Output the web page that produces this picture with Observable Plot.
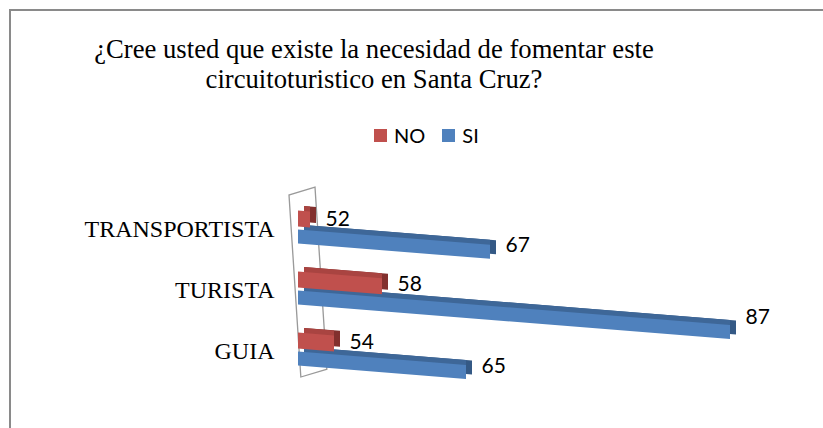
<!DOCTYPE html>
<html>
<head>
<meta charset="utf-8">
<script src="https://cdn.jsdelivr.net/npm/d3@7"></script>
<script src="https://cdn.jsdelivr.net/npm/@observablehq/plot@0.6"></script>
<style>
  html, body { margin: 0; padding: 0; background: #fff; overflow: hidden; }
  #wrap { position: relative; width: 823px; height: 428px; overflow: hidden; background: #fff; }
  #lineTop { position: absolute; left: 9px; top: 9px; width: 814px; height: 2px; background: #8a8a8a; }
  #lineLeft { position: absolute; left: 9px; top: 9px; width: 2px; height: 419px; background: #8a8a8a; }
  #title { position: absolute; left: 0; top: 34px; width: 748px; text-align: center;
           font-family: "Liberation Serif", "Times New Roman", serif; font-size: 26.67px;
           line-height: 30px; color: #000; }
  #legend { position: absolute; left: 374px; top: 125px; height: 20px; display: flex;
            align-items: center; font-family: Lato, "Noto Sans", sans-serif; font-size: 20px;
            line-height: 20px; color: #000; }
  #legend .item { display: flex; align-items: center; margin-right: 17px; }
  #legend .sw { width: 13px; height: 13px; margin-right: 7px; }
  #chart { position: absolute; left: 0; top: 160px; }
</style>
</head>
<body>
<div id="wrap">
  <div id="lineTop"></div>
  <div id="lineLeft"></div>
  <div id="title"></div>
  <div id="legend"></div>
  <div id="chart"></div>
</div>
<script>
// ---- data ----
const categories = ["TRANSPORTISTA", "TURISTA", "GUIA"];
const noValues = [52, 58, 54];
const siValues = [67, 87, 65];
const seriesNames = ["NO", "SI"];
const seriesColors = ["#C0504D", "#4F81BD"];
const topColors = ["#A94441", "#3E6798"];
const sideColors = ["#82302E", "#345985"];
const titleLines = ["¿Cree usted que existe la necesidad de fomentar este", "circuitoturistico en Santa Cruz?"];
const xDomain = [51, 90];

// ---- table ----
const rows = categories.map((cat, i) => ({cat, no: noValues[i], si: siValues[i]}));

// ---- title & legend ----
const titleEl = document.getElementById("title");
titleLines.forEach(t => { const d = document.createElement("div"); d.textContent = t; titleEl.appendChild(d); });
const legendEl = document.getElementById("legend");
seriesNames.forEach((name, i) => {
  const item = document.createElement("div"); item.className = "item";
  const sw = document.createElement("div"); sw.className = "sw"; sw.style.background = seriesColors[i];
  const lb = document.createElement("span"); lb.textContent = name;
  item.appendChild(sw); item.appendChild(lb); legendEl.appendChild(item);
});

// ---- 3D-ish helpers ----
const barSlope = 0.08;
const barDeg = Math.atan(barSlope) * 180 / Math.PI;
const labelSlope = 0.045;
const xMin = xDomain[0];
const depthX = 6, depthY = -5;

function skewBars(index, scales, values, dims, ctx, next) {
  const g = next(index, scales, values, dims, ctx);
  const x0 = scales.x(xMin);
  g.setAttribute("transform", `translate(0,${-x0 * barSlope}) skewY(${barDeg}) ${g.getAttribute("transform") || ""}`);
  return g;
}
function shiftLabels(index, scales, values, dims, ctx, next) {
  const x0 = scales.x(xMin);
  const Y = Array.from(values.y, (y, i) => y + (values.x[i] - x0) * labelSlope);
  return next(index, scales, {...values, y: Y}, dims, ctx);
}
function skewWall(index, scales, values, dims, ctx, next) {
  const g = next(index, scales, values, dims, ctx);
  const X = scales.x(xMin) - 9, Y = dims.marginTop - 2.5;
  g.setAttribute("transform", `translate(${X},${Y}) matrix(1,-0.3,0.065,1,0,0) translate(${-X},${-Y})`);
  return g;
}

const redIns = {insetTop: 12.5, insetBottom: 32.5};
const blueIns = {insetTop: 31.5, insetBottom: 15.5};

function box3d(key, s, ins) {
  const base = {y: "cat", x1: () => xMin, x2: key, ...ins, render: skewBars};
  return [
    Plot.barX(rows, {...base, fill: sideColors[s], dx: depthX, dy: depthY}),
    Plot.barX(rows, {...base, fill: topColors[s], dx: depthX, dy: depthY, insetRight: depthX}),
    Plot.barX(rows, {...base, fill: seriesColors[s]})
  ];
}

const chart = Plot.plot({
  width: 823,
  height: 268,
  marginLeft: 298,
  marginRight: 57,
  marginTop: 37.5,
  marginBottom: 47.5,
  style: {background: "transparent", overflow: "visible"},
  x: {domain: xDomain, axis: null},
  y: {domain: categories, padding: 0, label: null},
  marks: [
    Plot.barX([xMin], {x1: d => d, x2: d => d, insetLeft: -9, insetRight: -17, insetTop: -2.5, insetBottom: 3.5,
      fill: "none", stroke: "#9a9a9a", strokeWidth: 1.3, render: skewWall}),
    Plot.axisY({label: null, tickSize: 0, tickPadding: 24, fontSize: 24, fontFamily: "Liberation Serif", fill: "#000"}),
    ...box3d("si", 1, blueIns),
    ...box3d("no", 0, redIns),
    Plot.text(rows, {y: "cat", x: "no", text: "no", dx: 15, dy: -10, textAnchor: "start",
      fontSize: 21, fontFamily: "Lato", fill: "#000", render: shiftLabels}),
    Plot.text(rows, {y: "cat", x: "si", text: "si", dx: 15, dy: 8, textAnchor: "start",
      fontSize: 21, fontFamily: "Lato", fill: "#000", render: shiftLabels})
  ]
});
document.getElementById("chart").appendChild(chart);
</script>
</body>
</html>
